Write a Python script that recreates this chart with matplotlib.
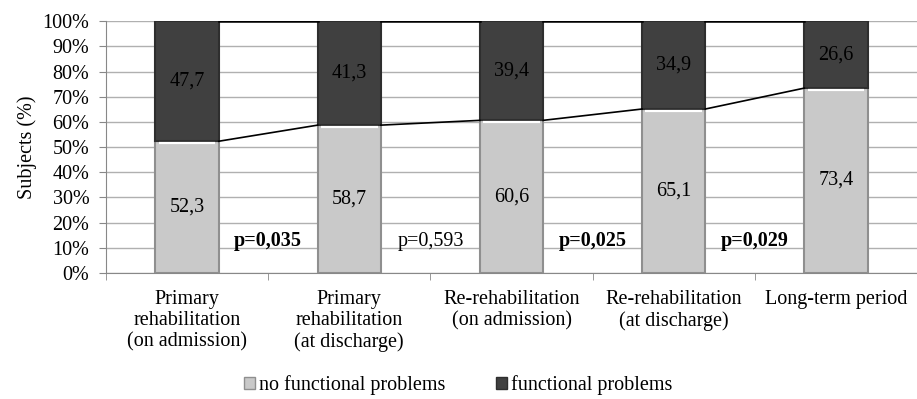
import matplotlib.pyplot as plt
import numpy as np

plt.rcParams['font.family'] = ['Liberation Serif', 'DejaVu Serif']

stages = ["Primary\nrehabilitation\n(on admission)",
          "Primary\nrehabilitation\n(at discharge)",
          "Re-rehabilitation\n(on admission)",
          "Re-rehabilitation\n(at discharge)",
          "Long-term period"]
no_problems = [52.3, 58.7, 60.6, 65.1, 73.4]
problems = [47.7, 41.3, 39.4, 34.9, 26.6]
p_values = ["p=0,035", "p=0,593", "p=0,025", "p=0,029"]
p_bold = [True, False, True, True]

light = '#c9c9c9'
dark = '#404040'
fs = 14.5

fig = plt.figure(figsize=(9.17, 3.99), dpi=100)
ax = fig.add_axes([0.1156, 0.316, 0.8844, 0.631])

x = np.arange(len(stages))
w = 0.39
no_problems = np.array(no_problems)
problems = np.array(problems)

ax.bar(x, no_problems, w, color=light, edgecolor='#8f8f8f', linewidth=1.5, zorder=3)
ax.bar(x, problems, w, bottom=no_problems, color=dark, edgecolor='#2e2e2e',
       linewidth=1.5, zorder=3)
# soft highlight where the light segment meets the dark one
ax.hlines(no_problems - 0.8, x - w / 2 + 0.02, x + w / 2 - 0.02, color='white',
          linewidth=1.6, zorder=4)

# series lines joining neighbouring bars
top = no_problems + problems
for i in range(len(stages) - 1):
    ax.plot([x[i] + w / 2, x[i + 1] - w / 2], [no_problems[i], no_problems[i + 1]],
            color='black', linewidth=1.2, zorder=4)
    ax.plot([x[i] + w / 2, x[i + 1] - w / 2], [top[i], top[i + 1]],
            color='black', linewidth=1.8, zorder=4)

for xi, a, b in zip(x, no_problems, problems):
    ax.text(xi, a / 2, f"{a:.1f}".replace('.', ','), ha='center', va='center',
            fontsize=fs, zorder=5)
    ax.text(xi, a + b / 2, f"{b:.1f}".replace('.', ','), ha='center', va='center',
            fontsize=fs, zorder=5)

for i, (txt, bold) in enumerate(zip(p_values, p_bold)):
    ax.text(x[i] + 0.5, 12.5, txt, ha='center', va='center', fontsize=fs,
            fontweight='bold' if bold else 'normal', zorder=5)

ax.set_xlim(-0.5, len(stages) - 0.5)
ax.set_ylim(0, 100)
ax.set_yticks(np.arange(0, 101, 10))
ax.set_yticklabels([f"{v}%" for v in range(0, 101, 10)], fontsize=fs)
ax.yaxis.grid(True, color='#b0b0b0', linewidth=1.0, zorder=0)
ax.set_ylabel("Subjects (%)", fontsize=fs, labelpad=4)

ax.set_xticks(x)
ax.set_xticklabels(stages, fontsize=fs, va='top', linespacing=1.18)
ax.set_xticks(np.arange(-0.5, len(stages), 1.0), minor=True)
ax.tick_params(axis='x', which='major', length=0, pad=12)
ax.tick_params(axis='x', which='minor', length=5, color='#888888')
ax.tick_params(axis='y', length=5, color='#888888', pad=7)

for side in ['top', 'right']:
    ax.spines[side].set_visible(False)
ax.spines['left'].set_color('#888888')
ax.spines['bottom'].set_color('#888888')

handles = [plt.Rectangle((0, 0), 1, 1, facecolor=light, edgecolor='#8f8f8f'),
           plt.Rectangle((0, 0), 1, 1, facecolor=dark, edgecolor='#2e2e2e')]
fig.legend(handles, ["no functional problems", "functional problems"],
           loc='center', bbox_to_anchor=(0.5, 0.035), ncol=2, frameon=False,
           fontsize=fs, handlelength=0.55, handleheight=0.55, handletextpad=0.2,
           columnspacing=2.5)

fig.savefig('out.png', dpi=100)
